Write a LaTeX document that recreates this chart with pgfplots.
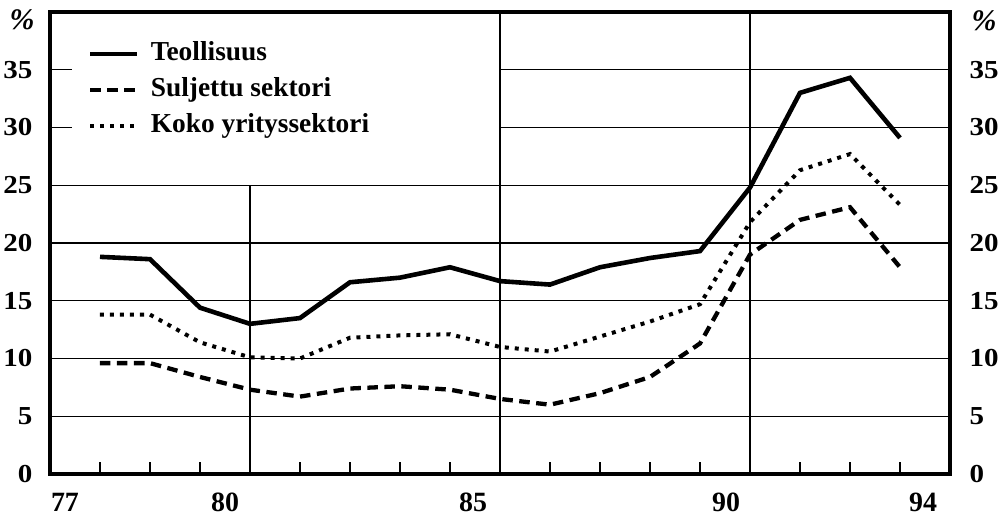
\documentclass[border=0pt]{standalone}
\usepackage{fontspec}
\setmainfont{Liberation Serif}
\newfontfamily\numfont[FakeStretch=1.12]{Liberation Serif}
\usepackage{pgfplots}
\pgfplotsset{compat=1.18}
\pgfplotstableread{
x T S K
1 18.8 9.6 13.8
2 18.6 9.6 13.8
3 14.4 8.4 11.4
4 13.0 7.3 10.1
5 13.5 6.7 10.0
6 16.6 7.4 11.8
7 17.0 7.6 12.0
8 17.9 7.3 12.1
9 16.7 6.5 11.0
10 16.4 6.0 10.6
11 17.9 7.0 11.9
12 18.7 8.4 13.2
13 19.3 11.3 14.7
14 24.8 19.0 21.8
15 33.0 22.0 26.3
16 34.3 23.1 27.7
17 29.1 17.9 23.3
}\data
\begin{document}
\begin{tikzpicture}
\begin{axis}[
  at={(0,0)}, anchor=south west,
  width=900bp, height=462bp, scale only axis,
  xmin=0, xmax=18, ymin=0, ymax=40,
  axis line style={line width=4.5bp},
  tick align=inside,
  xtick pos=bottom,
  xtick={1,...,17}, xticklabels={},
  xtick style={line width=1.3bp, black, /pgfplots/major tick length=12bp},
  extra x ticks={0.3,3.5,8.46,13.52,17.46},
  extra x tick labels={77,80,85,90,94},
  extra x tick style={xtick style={draw=none}, xticklabel style={anchor=center, yshift=-28bp}},
  ytick={0,5,...,35},
  ytick pos=left,
  ytick style={line width=1.3bp, black, /pgfplots/major tick length=20bp},
  ymajorgrids,
  grid style={line width=1.3bp, black},
  /pgf/number format/assume math mode=true,
  ticklabel style={font=\fontsize{26}{28}\selectfont\numfont\bfseries},
  xticklabel style={font=\fontsize{28}{30}\selectfont\bfseries},
  yticklabel style={anchor=east, xshift=-14bp},
  ylabel={\%},
  ylabel style={rotate=-90, at={(rel axis cs:0,1)}, anchor=center, xshift=-28bp, yshift=-8bp, font=\fontsize{30}{32}\selectfont\bfseries\itshape},
  legend style={at={(axis cs:0.76,37.45)}, anchor=north west, draw=none, fill=none,
    font=\fontsize{27.5}{30}\selectfont\bfseries, row sep=11bp, inner sep=0pt,
    nodes={inner sep=0pt, text height=19bp, text depth=6bp},
    /tikz/every odd column/.style={column sep=11bp}},
  legend cell align=left,
  legend image code/.code={\draw[#1] (0bp,0bp) -- (47bp,0bp);},
]
\fill[white] (axis cs:0.45,26) rectangle (axis cs:8.97,38.5);
\draw[line width=1.3bp] (axis cs:4,0) -- (axis cs:4,25);
\draw[line width=1.3bp] (axis cs:9,0) -- (axis cs:9,40);
\draw[line width=1.3bp] (axis cs:14,0) -- (axis cs:14,40);
\addplot[black, line width=4.6bp] table[x=x, y=T] {\data};
\addlegendentry{Teollisuus}
\addplot[black, line width=4.3bp, dash pattern=on 10.5bp off 6.5bp] table[x=x, y=S] {\data};
\addlegendentry{Suljettu sektori}
\addplot[black, line width=4bp, dash pattern=on 4bp off 6bp] table[x=x, y=K] {\data};
\addlegendentry{Koko yrityssektori}
\end{axis}
\begin{axis}[
  at={(0,0)}, anchor=south west,
  width=900bp, height=462bp, scale only axis,
  xmin=0, xmax=18, ymin=0, ymax=40,
  hide x axis,
  axis y line*=right,
  axis line style={draw=none},
  ytick={0,5,...,35},
  ytick style={draw=none},
  /pgf/number format/assume math mode=true,
  yticklabel style={font=\fontsize{26}{28}\selectfont\numfont\bfseries, anchor=west, xshift=16bp},
  ylabel={\%},
  ylabel style={rotate=-90, at={(rel axis cs:1,1)}, anchor=center, xshift=34bp, yshift=-9bp, font=\fontsize{30}{32}\selectfont\bfseries\itshape},
]
\end{axis}
\pgfresetboundingbox
\path (-50bp,-44bp) rectangle (954bp,474bp);
\end{tikzpicture}
\end{document}
